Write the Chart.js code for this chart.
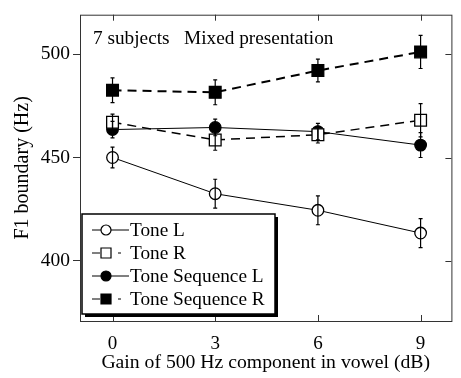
<!doctype html>
<html>
<head>
<meta charset="UTF-8">
<title>F1 boundary</title>
<script src="https://cdn.jsdelivr.net/npm/chart.js@4"></script>
<style>body{margin:0;background:#fff}</style>
</head>
<body>
<div style="width:461px;height:378px"><canvas id="canvas" width="461" height="378"></canvas></div>
<script>
var gains = [0, 3, 6, 9];
var toneL = [450, 432.5, 424.5, 413.5];
var toneLErr = [5, 7, 7, 7];
var toneR = [467, 458.5, 461, 468];
var toneRErr = [4, 5, 4, 8];
var seqL = [463.5, 464.5, 462.5, 456];
var seqLErr = [4, 4, 4, 6];
var seqR = [482.5, 481.5, 492, 501];
var seqRErr = [6, 6, 5.5, 8];
var xTicks = [0, 3, 6, 9];
var yTicks = [400, 450, 500];
var note = "7 subjects   Mixed presentation";

var FONT = "'Liberation Serif', 'DejaVu Serif', serif";
var INK = "#000";

function pts(vals) {
	return gains.map(function(g, i){ return {x: g, y: vals[i]}; });
}

var series = [
	{label: "Tone L", vals: toneL, err: toneLErr, style: "circle", fill: "#fff", dash: [], width: 1},
	{label: "Tone R", vals: toneR, err: toneRErr, style: "rect", fill: "#fff", dash: [9, 6], width: 1.5},
	{label: "Tone Sequence L", vals: seqL, err: seqLErr, style: "circle", fill: INK, dash: [], width: 1},
	{label: "Tone Sequence R", vals: seqR, err: seqRErr, style: "rect", fill: INK, dash: [9, 6], width: 2}
];

var datasets = series.map(function(s){
	return {
		label: s.label,
		data: pts(s.vals),
		borderColor: INK,
		borderWidth: s.width,
		borderDash: s.dash,
		pointStyle: s.style,
		pointRadius: s.style == "rect" ? 8.3 : 5.8,
		pointBorderWidth: 1.3,
		pointBorderColor: INK,
		pointBackgroundColor: s.fill,
		tension: 0,
		errs: s.err
	};
});

// error bars drawn through the markers
var errorBars = {
	id: "errorBars",
	afterDatasetsDraw: function(chart){
		var ctx = chart.ctx, ys = chart.scales.y;
		ctx.save();
		ctx.strokeStyle = INK;
		ctx.lineWidth = 1.2;
		ctx.setLineDash([]);
		chart.data.datasets.forEach(function(ds, i){
			var meta = chart.getDatasetMeta(i);
			meta.data.forEach(function(p, j){
				var v = ds.data[j].y, e = ds.errs[j];
				var top = ys.getPixelForValue(v + e), bot = ys.getPixelForValue(v - e);
				ctx.beginPath();
				ctx.moveTo(p.x, top); ctx.lineTo(p.x, bot);
				ctx.moveTo(p.x - 2, top); ctx.lineTo(p.x + 2, top);
				ctx.moveTo(p.x - 2, bot); ctx.lineTo(p.x + 2, bot);
				ctx.stroke();
			});
		});
		ctx.restore();
	}
};

// frame, inward ticks, note and legend box
var decor = {
	id: "decor",
	afterDraw: function(chart){
		var ctx = chart.ctx, a = chart.chartArea;
		var xs = chart.scales.x, ys = chart.scales.y;
		ctx.save();
		ctx.strokeStyle = "#333";
		ctx.lineWidth = 1;
		ctx.strokeRect(a.left + 0.5, a.top + 0.5, a.right - a.left, a.bottom - a.top);
		ctx.beginPath();
		xTicks.forEach(function(t){
			var x = Math.round(xs.getPixelForValue(t)) + 0.5;
			ctx.moveTo(x, a.top); ctx.lineTo(x, a.top + 6);
			ctx.moveTo(x, a.bottom); ctx.lineTo(x, a.bottom - 6);
		});
		yTicks.forEach(function(t){
			var y = Math.round(ys.getPixelForValue(t)) + 0.5;
			ctx.moveTo(a.right, y); ctx.lineTo(a.right - 6, y);
		});
		ctx.stroke();

		ctx.fillStyle = INK;
		ctx.font = "19.3px " + FONT;
		ctx.textBaseline = "middle";
		ctx.fillText(note, a.left + 13, a.top + 24);

		// legend
		var bx = 82, by = 214, bw = 193, bh = 100;
		ctx.fillStyle = "#fff";
		ctx.fillRect(bx, by, bw, bh);
		ctx.fillStyle = INK;
		ctx.fillRect(bx + 3, by + bh, bw, 3);
		ctx.fillRect(bx + bw, by + 3, 3, bh);
		ctx.strokeStyle = INK;
		ctx.lineWidth = 1.5;
		ctx.strokeRect(bx, by, bw, bh);
		var mx = 106;
		chart.data.datasets.forEach(function(ds, i){
			var y = by + 16 + i * 23;
			ctx.strokeStyle = INK;
			ctx.lineWidth = 1;
			ctx.beginPath();
			if (ds.borderDash.length) {
				ctx.moveTo(bx + 10, y); ctx.lineTo(bx + 18, y);
				ctx.moveTo(bx + 36, y); ctx.lineTo(bx + 39, y);
			} else {
				ctx.moveTo(bx + 10, y); ctx.lineTo(bx + 47, y);
			}
			ctx.stroke();
			ctx.fillStyle = ds.pointBackgroundColor;
			ctx.lineWidth = 1.2;
			ctx.beginPath();
			if (ds.pointStyle == "rect") ctx.rect(mx - 5, y - 5, 10, 10);
			else ctx.arc(mx, y, 5, 0, Math.PI * 2);
			ctx.fill(); ctx.stroke();
			ctx.fillStyle = INK;
			ctx.font = "19.3px " + FONT;
			ctx.fillText(ds.label, bx + 48, y + 1);
		});
		ctx.restore();
	}
};

var ctx = document.getElementById("canvas").getContext("2d");
new Chart(ctx, {
	type: "line",
	data: {datasets: datasets},
	plugins: [errorBars, decor],
	options: {
		responsive: false,
		animation: false,
		layout: {padding: {top: 11, right: 3, left: 0, bottom: 0}},
		plugins: {legend: {display: false}, tooltip: {enabled: false}},
		scales: {
			x: {
				type: "linear", min: -0.95, max: 9.9,
				afterBuildTicks: function(s){ s.ticks = xTicks.map(function(v){ return {value: v}; }); },
				afterFit: function(s){ s.height = 57; },
				grid: {display: false, drawTicks: false},
				border: {display: false},
				ticks: {color: INK, font: {family: FONT, size: 19}, padding: 12, maxRotation: 0},
				title: {display: true, text: "Gain of 500 Hz component in vowel (dB)", color: INK,
					font: {family: FONT, size: 19.7}, padding: {top: 0, bottom: 3}}
			},
			y: {
				min: 371, max: 519,
				afterBuildTicks: function(s){ s.ticks = yTicks.map(function(v){ return {value: v}; }); },
				afterFit: function(s){ s.width = 80; },
				grid: {display: true, drawOnChartArea: false, drawTicks: true, tickLength: 7, color: "#333"},
				border: {display: false},
				ticks: {color: INK, font: {family: FONT, size: 19.5}, padding: 3},
				title: {display: true, text: "F1 boundary (Hz)", color: INK,
					font: {family: FONT, size: 20}, padding: {top: 11, bottom: 0}}
			}
		}
	}
});
</script>
</body>
</html>
